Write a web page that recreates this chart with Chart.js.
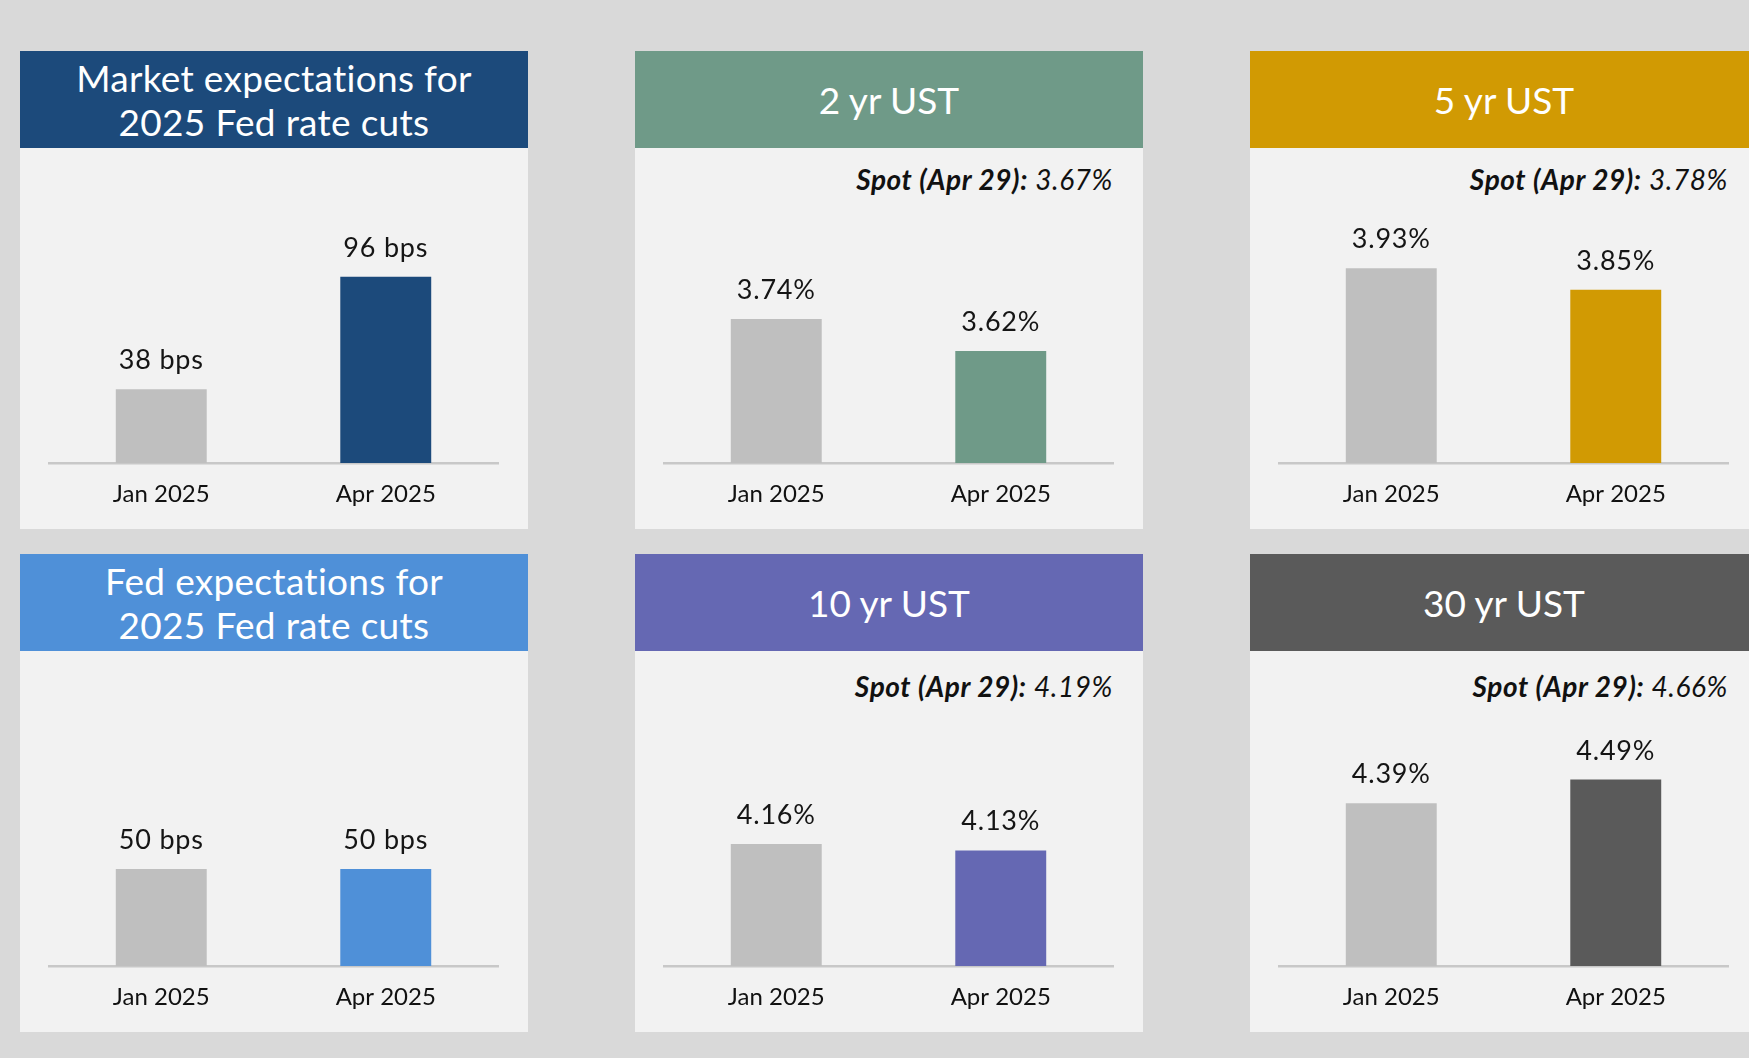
<!DOCTYPE html>
<html>
<head>
    <title>Fed rate cut expectations and UST yields</title>
    <script src="https://cdn.jsdelivr.net/npm/chart.js"></script>
    <style>
        body {
            margin: 0;
            width: 1749px;
            height: 1058px;
            overflow: hidden;
            background: #d9d9d9;
            font-family: Lato, "Noto Sans", sans-serif;
            position: relative;
        }
        .panel {
            position: absolute;
            width: 508px;
            height: 478px;
            background: #f2f2f2;
        }
        .hdr {
            height: 97px;
            display: flex;
            align-items: center;
            justify-content: center;
            text-align: center;
            color: #fff;
            font-size: 37px;
            line-height: 44px;
        }
        .hdr.two {
            font-size: 37px;
            letter-spacing: 0.3px;
        }
        .spot {
            position: absolute;
            right: 30px;
            font-size: 28px;
            line-height: 30px;
            letter-spacing: 0.6px;
            font-style: italic;
            color: #111;
            white-space: nowrap;
        }
        .spot b {
            font-weight: 700;
        }
        canvas {
            position: absolute;
            left: 0;
            top: 97px;
        }
    </style>
</head>
<body>
    <script>
        // categories and values
        const categories = ['Jan 2025', 'Apr 2025'];
        const marketCuts = [38, 96];
        const fedCuts = [50, 50];
        const ust2 = [3.74, 3.62];
        const ust5 = [3.93, 3.85];
        const ust10 = [4.16, 4.13];
        const ust30 = [4.39, 4.49];
        const spotDate = 'Apr 29';
        const spot2 = 3.67, spot5 = 3.78, spot10 = 4.19, spot30 = 4.66;

        const GRAY = '#bfbfbf';

        // one entry per panel
        const panels = [
            { title: 'Market expectations for<br>2025 Fed rate cuts', data: marketCuts, unit: 'bps',
              color: '#1c4a7b', left: 20, top: 51, min: 0, max: 162.4 },
            { title: '2 yr UST', data: ust2, unit: '%', spot: spot2,
              color: '#6f9a88', left: 635, top: 51, min: 3.2, max: 4.381 },
            { title: '5 yr UST', data: ust5, unit: '%', spot: spot5,
              color: '#d19a03', left: 1250, top: 51, min: 3.2, max: 4.381 },
            { title: 'Fed expectations for<br>2025 Fed rate cuts', data: fedCuts, unit: 'bps',
              color: '#4f90d8', left: 20, top: 554, min: 0, max: 162.4 },
            { title: '10 yr UST', data: ust10, unit: '%', spot: spot10,
              color: '#6568b3', left: 635, top: 554, min: 3.6, max: 5.045 },
            { title: '30 yr UST', data: ust30, unit: '%', spot: spot30,
              color: '#5a5a5a', left: 1250, top: 554, min: 3.7, max: 5.035 }
        ];

        function fmt(v, unit) {
            return unit === 'bps' ? v + ' bps' : v.toFixed(2) + '%';
        }

        // value labels above each bar
        const barLabels = {
            id: 'barLabels',
            afterDatasetsDraw(chart) {
                const ctx = chart.ctx;
                const unit = chart.options.plugins.barLabels.unit;
                const meta = chart.getDatasetMeta(0);
                ctx.save();
                ctx.font = '27px Lato';
                ctx.letterSpacing = '0.8px';
                ctx.fillStyle = '#151515';
                ctx.textAlign = 'center';
                ctx.textBaseline = 'alphabetic';
                meta.data.forEach((bar, i) => {
                    ctx.fillText(fmt(chart.data.datasets[0].data[i], unit), bar.x, bar.y - 20);
                });
                ctx.restore();
            }
        };

        panels.forEach(p => {
            const div = document.createElement('div');
            div.className = 'panel';
            div.style.left = p.left + 'px';
            div.style.top = p.top + 'px';

            const hdr = document.createElement('div');
            hdr.className = 'hdr' + (p.title.includes('<br>') ? ' two' : '');
            hdr.style.background = p.color;
            hdr.innerHTML = p.title;
            div.appendChild(hdr);

            if (p.spot !== undefined) {
                const s = document.createElement('div');
                s.className = 'spot';
                s.style.top = (p.top < 300 ? 113 : 117) + 'px';
                s.innerHTML = '<b>Spot (' + spotDate + '):</b> ' + p.spot.toFixed(2) + '%';
                div.appendChild(s);
            }

            const canvas = document.createElement('canvas');
            canvas.width = 508;
            canvas.height = 381;
            div.appendChild(canvas);
            document.body.appendChild(div);

            new Chart(canvas.getContext('2d'), {
                type: 'bar',
                data: {
                    labels: categories,
                    datasets: [{
                        data: p.data,
                        backgroundColor: [GRAY, p.color],
                        base: p.min,
                        barPercentage: 0.405,
                        categoryPercentage: 1
                    }]
                },
                options: {
                    responsive: false,
                    animation: false,
                    layout: { padding: { left: 29, right: 30, top: 0, bottom: 0 } },
                    plugins: {
                        legend: { display: false },
                        tooltip: { enabled: false },
                        barLabels: { unit: p.unit }
                    },
                    scales: {
                        x: {
                            grid: { display: false, drawTicks: false },
                            border: { display: true, color: '#c8c8c8', width: 2.5 },
                            ticks: { color: '#111', font: { family: 'Lato', size: 24 }, padding: 17 },
                            afterFit: scale => { scale.height = 66; }
                        },
                        y: {
                            display: false,
                            min: p.min,
                            max: p.max
                        }
                    }
                },
                plugins: [barLabels]
            });
        });
    </script>
</body>
</html>
